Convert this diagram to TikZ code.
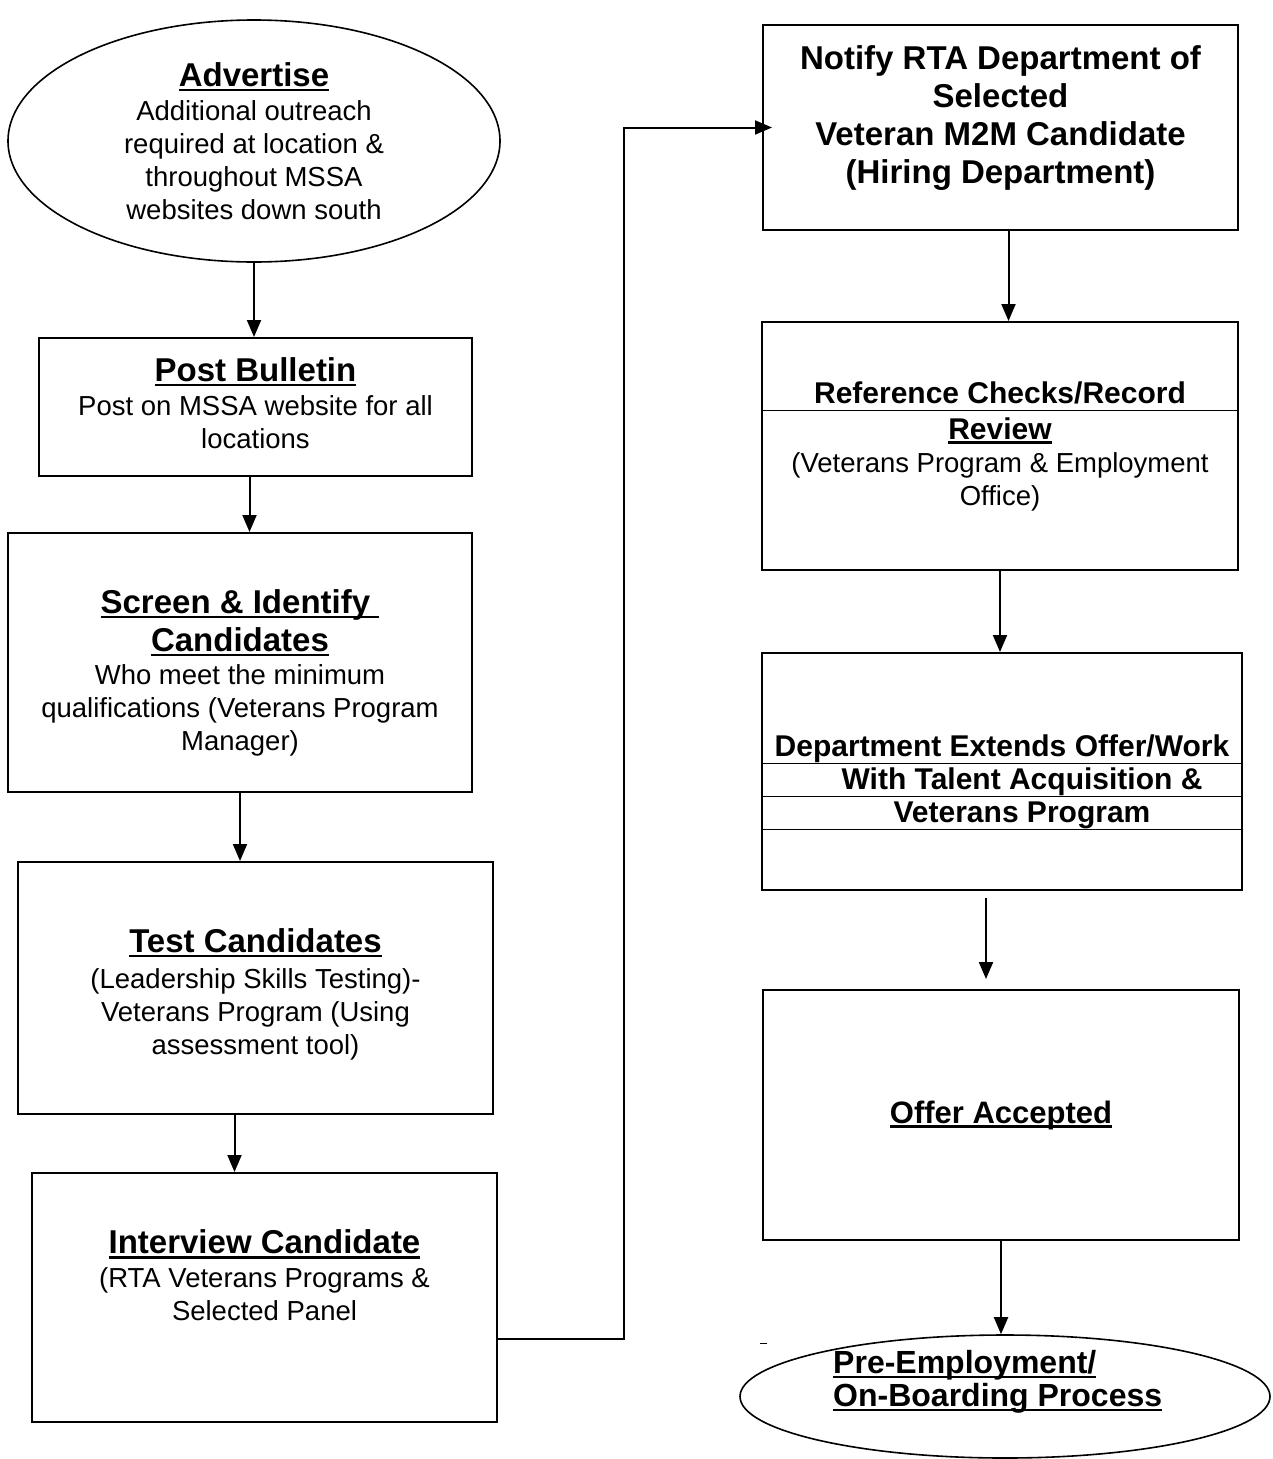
\documentclass[tikz,border=0pt]{standalone}
\usepackage{fontspec}
\setmainfont{Liberation Sans}
\usetikzlibrary{arrows.meta,shapes.geometric}
\newcommand{\hd}{\fontsize{33}{38}\selectfont\bfseries}
\newcommand{\shd}{\fontsize{30}{33}\selectfont\bfseries}
\newcommand{\bd}{\fontsize{27.5}{33}\selectfont}
\newcommand{\hdline}[1]{\setbox0\hbox{#1}\rlap{\rule[-5pt]{\wd0}{2.6pt}}\box0}
\begin{document}
\begin{tikzpicture}[x=1pt,y=-1pt,
	box/.style={draw,line width=2pt,rectangle,inner sep=0pt,align=center,font=\bd},
	oval/.style={draw,line width=1.6pt,ellipse,inner sep=0pt,font=\bd},
	txt/.style={inner sep=0pt,align=center,font=\bd},
	flow/.style={line width=2pt,-{Triangle[length=17pt,width=14pt]}},
	rule/.style={line width=1pt}]
\useasboundingbox (0,0) rectangle (1273,1459);
\node[oval,minimum width=492,minimum height=242,align=center] (advertise) at (254,141) {{\hd\hdline{Advertise}}\\[1pt]Additional outreach\\required at location \&\\throughout MSSA\\websites down south};
\node[box,minimum width=433,minimum height=138] (post) at (255.5,407) {};
\node[txt] (posttext) at ([yshift=4]post.center) {{\hd\hdline{Post Bulletin}}\\[1pt]Post on MSSA website for all\\locations};
\node[box,minimum width=464,minimum height=259] (screen) at (240,662.5) {};
\node[txt] (screentext) at ([yshift=-10]screen.center) {{\hd\hdline{Screen \& Identify\ }}\\[5pt]{\hd\hdline{Candidates}}\\Who meet the minimum\\qualifications (Veterans Program\\Manager)};
\node[box,minimum width=475,minimum height=252] (test) at (255.5,988) {};
\node[txt] (testtext) at ([yshift=-6]test.center) {{\hd\hdline{Test Candidates}}\\[3pt](Leadership Skills Testing)-\\Veterans Program (Using\\assessment tool)};
\node[box,minimum width=465,minimum height=249] (interview) at (264.5,1297.5) {};
\node[txt] (interviewtext) at ([yshift=22]interview.center) {{\hd\hdline{Interview Candidate}}\\[1pt](RTA Veterans Programs \&\\Selected Panel};
\node[box,minimum width=475,minimum height=205] (notify) at (1000.5,127.5) {};
\node[txt,font=\hd] (notifytext) at ([yshift=9]notify.center) {Notify RTA Department of\\Selected\\Veteran M2M Candidate\\(Hiring Department)};
\node[box,minimum width=476,minimum height=248] (reference) at (1000,446) {{\shd Reference Checks/Record}\\[3pt]{\shd\hdline{Review}}\\(Veterans Program \& Employment\\Office)};
\node[box,minimum width=480,minimum height=237] (dept) at (1002,771.5) {};
\node[txt,font=\shd] (depttext) at ([yshift=-10]dept.center) {Department Extends Offer/Work\\\hspace*{40pt}With Talent Acquisition \&\\\hspace*{40pt}Veterans Program};
\node[box,minimum width=476,minimum height=250] (offer) at (1001,1115) {\fontsize{31}{36}\selectfont\bfseries\hdline{Offer Accepted}};
\node[oval,minimum width=530,minimum height=123] (pre) at (1005,1396.5) {};
\node[txt,align=left,anchor=west,font={\fontsize{32}{33}\selectfont\bfseries}] (pretext) at ([xshift=-172,yshift=15]pre.center) {\hdline{Pre-Employment/}\\\hdline{On-Boarding Process}};
\draw[rule] ([yshift=36]reference.west) -- ([yshift=36]reference.east);
\draw[rule] ([yshift=8.5]dept.west) -- ([yshift=8.5]dept.east);
\draw[rule] ([yshift=-24.5]dept.west) -- ([yshift=-24.5]dept.east);
\draw[rule] ([yshift=-57.5]dept.west) -- ([yshift=-57.5]dept.east);
\draw[flow] (advertise.south) -- (advertise.south |- post.north);
\draw[flow] ([xshift=-6]post.south) -- ([xshift=-6]post.south |- screen.north);
\draw[flow] (screen.south) -- (screen.south |- test.north);
\draw[flow] ([xshift=-21]test.south) -- ([xshift=-21]test.south |- interview.north);
\draw[flow,shorten >=-10pt] ([yshift=-41.5]interview.east) -| ([xshift=-138]notify.west) -- (notify.west);
\draw[flow] ([xshift=8]notify.south) -- ([xshift=8]notify.south |- reference.north);
\draw[flow] (reference.south) -- (reference.south |- dept.north);
\draw[flow,shorten <=7pt,shorten >=10pt] ([xshift=-16]dept.south) -- ([xshift=-16]dept.south |- offer.north);
\draw[flow] (offer.south) -- (offer.south |- pre.north);
\draw[rule] (760,1343) -- (767,1343);
\end{tikzpicture}
\end{document}
